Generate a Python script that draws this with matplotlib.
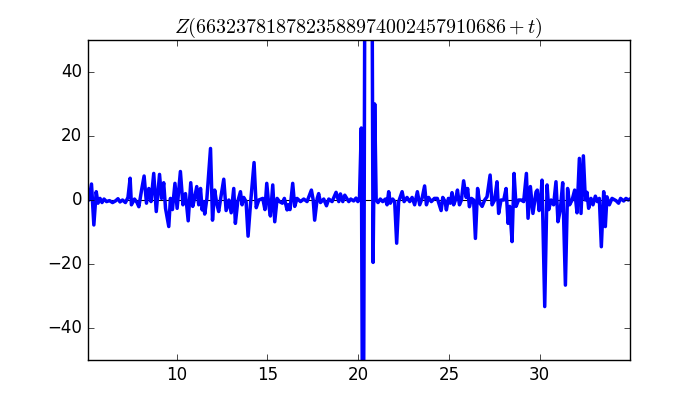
import matplotlib
matplotlib.use('Agg')
import matplotlib.pyplot as plt

plt.style.use('classic')

# values (t, Z)
t1 = [5.08, 5.16, 5.30, 5.43, 5.56, 5.66, 5.77, 5.88, 5.99, 6.13, 6.29, 6.46, 6.62, 6.76,
      6.87, 7.01, 7.17, 7.31, 7.43, 7.50, 7.67, 7.81, 7.91, 8.06, 8.20, 8.33, 8.46, 8.58,
      8.73, 8.87, 8.94, 9.05, 9.16, 9.28, 9.38, 9.56, 9.65, 9.76, 9.90, 10.02]
z1 = [0.5, 0, 5, -7.8, 2.6, -1, 0.5, -0.8, 0.3, -0.5, -0.2, -0.8, -0.3, 0.4,
      -0.6, 0, -0.8, 0.8, 6.8, -1.5, 0.3, -0.8, -2.1, 3.1, 7.5, -1, 3.6, -0.5,
      8.3, -3.6, 1, 8.0, 0.5, 5.4, -2.6, -8.3, 0.5, -3, 5.2, -2.6]

t2 = [10.20, 10.34, 10.48, 10.63, 10.77, 10.88, 10.98, 11.10, 11.21, 11.31, 11.40, 11.47,
      11.54, 11.66, 11.86, 11.97, 12.09, 12.20, 12.31, 12.42, 12.59, 12.72, 12.87, 13.00,
      13.14, 13.23, 13.36, 13.51, 13.60, 13.69, 13.82, 13.93, 14.06, 14.26, 14.38, 14.52,
      14.74, 14.86, 14.96]
z2 = [8.9, -1.5, 2, -6.5, 5.4, -2, 0.5, 4.2, -1.5, 3.6, -3.1, -0.5,
      -4.4, 0.5, 16.1, -6.3, 3.1, -1, -3.6, 0.5, 6.5, -3.3, 0, -4,
      3.6, -7.3, -0.5, 2.6, -1.5, 0.8, -0.5, -11.3, -1.5, 11.7, -2.4, 0,
      0.5, -3, 5.2]

t3 = [15.07, 15.16, 15.29, 15.40, 15.53, 15.66, 15.82, 15.93, 16.08, 16.15, 16.24, 16.39,
      16.50, 16.63, 16.82, 17.00, 17.18, 17.42, 17.52, 17.60, 17.74, 17.82, 17.92, 18.10,
      18.25, 18.38, 18.56, 18.78, 18.93, 19.02, 19.15, 19.26, 19.48, 19.59, 19.75, 19.88]
z3 = [-1.5, -5, 4.7, -6.8, 0.5, -0.5, -1, 0.5, -3.1, -1.5, -3, 5.2,
      -2, 0.5, -0.5, 0.3, -0.5, 3.1, 0, -6.3, 0.5, 2, -0.8, 0.3,
      -1.8, 0.3, -0.5, 2.4, -0.5, 1.9, -0.5, 1.5, -0.5, 0.3, -0.3, 0.6]

t4 = [19.98, 20.07, 20.17, 20.27, 20.37, 20.59, 20.77, 20.82, 20.91, 20.99, 21.09, 21.22,
      21.35, 21.50, 21.59, 21.68, 21.77, 21.90, 22.01, 22.12, 22.23, 22.42, 22.53, 22.69,
      22.84, 22.97, 23.11, 23.26, 23.39, 23.52, 23.66, 23.76, 23.88, 24.03, 24.20, 24.36,
      24.57, 24.66, 24.79]
z4 = [-0.5, 0.5, 22.5, -120, 80, 300, 60, -19.5, 30, 0, -0.8, 0.3,
      -0.5, 0.3, -1.5, 2.6, -1, 0.3, -0.5, -13.5, -0.5, 2.6, -0.5, 0.8,
      -0.5, 0.8, -1.5, 2.6, -1.5, 0.5, 4.4, -1.5, 0.8, -0.5, 0.5, 0.5,
      -3.3, 0.8, -0.5]

t5 = [24.86, 24.97, 25.08, 25.17, 25.26, 25.36, 25.47, 25.58, 25.69, 25.81, 25.95, 26.03,
      26.13, 26.24, 26.36, 26.46, 26.58, 26.69, 26.83, 26.97, 27.10, 27.27, 27.38, 27.52,
      27.65, 27.74, 27.87, 28.02, 28.15, 28.26, 28.35, 28.48, 28.59, 28.70, 28.84, 28.98,
      29.12, 29.27, 29.36, 29.49, 29.63, 29.71, 29.80]
z5 = [-3.1, 0.5, -1, 2.3, -1.5, 0, 3.1, -1.5, 0, 6, 0.8, 3.6,
      -2.1, 0.5, 0, -12, 3.6, -0.8, -2, 0, 1, 7.8, -1.5, 0,
      5.7, -4.2, 0, 0, 3.6, -7.3, -2, -13, 8.3, -2, 0, 0,
      -0.5, 8.3, -5.7, 4.2, -4.2, -1, 2.5]

t6 = [29.87, 29.97, 30.06, 30.13, 30.28, 30.41, 30.50, 30.63, 30.77, 30.90, 31.01, 31.14,
      31.27, 31.42, 31.54, 31.65, 31.79, 31.93, 32.06, 32.19, 32.28, 32.41, 32.52, 32.61,
      32.70, 32.83, 32.94, 33.07, 33.18, 33.29, 33.40, 33.53, 33.62, 33.71, 33.84, 33.99,
      34.21, 34.35, 34.46, 34.63, 34.76, 34.89, 34.98]
z6 = [3.1, -3.3, 0, 6.2, -33.3, 4.7, -3, 0, -1.5, 5.7, -6.8, -3,
      5.4, -26.6, 3.6, -1.5, 0, 3.1, -4, 13, -4.2, 13.8, 0, 2.4,
      -2.6, 0.5, -1.5, 1.2, -0.5, 0.5, -14.6, 2.6, -8.3, 1, -1.5, 0.5,
      -0.2, -1, 0.5, -0.3, 0.5, 0, 0.3]

t = t1 + t2 + t3 + t4 + t5 + t6
z = z1 + z2 + z3 + z4 + z5 + z6

fig = plt.figure(figsize=(7, 4), dpi=100, facecolor='white')
ax = fig.add_subplot(111)
ax.axhline(0, color='black', lw=0.8, zorder=1)
ax.plot(t, z, color='blue', lw=2.5, zorder=2)
ax.set_xlim(t[0], t[-1])
ax.set_ylim(-50, 50)
ax.set_xticks([10, 15, 20, 25, 30])
ax.set_yticks([-40, -20, 0, 20, 40])
ax.set_title(r'$Z(6632378187823588974002457910686+t)$')

fig.savefig('out.png', dpi=100, facecolor='white')
